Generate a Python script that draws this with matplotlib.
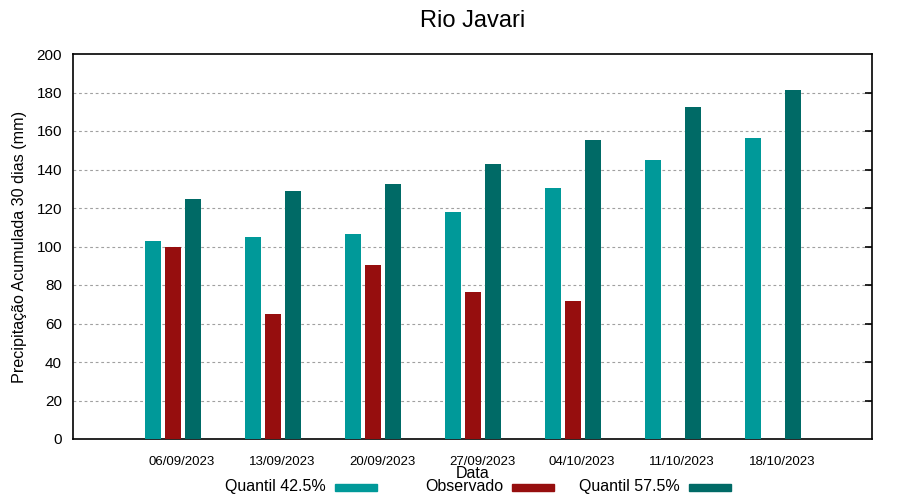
import numpy as np
import matplotlib
matplotlib.use("Agg")
import matplotlib.pyplot as plt
from matplotlib.patches import Rectangle

plt.rcParams['font.family'] = ['Liberation Sans', 'DejaVu Sans']

dates = ['06/09/2023', '13/09/2023', '20/09/2023', '27/09/2023',
         '04/10/2023', '11/10/2023', '18/10/2023']
q425 = [102.6, 104.7, 106.3, 117.7, 130.2, 144.8, 156.3]
observado = [99.5, 65.1, 90.6, 76.6, 71.9, np.nan, np.nan]
q575 = [124.5, 128.6, 132.3, 142.7, 155.2, 172.4, 181.3]
series_names = ['Quantil 42.5%', 'Observado', 'Quantil 57.5%']

c_q425 = '#009999'
c_obs = '#960e0e'
c_q575 = '#006a66'
colors = [c_q425, c_obs, c_q575]

fig = plt.figure(figsize=(9, 5), dpi=100)
ax = fig.add_axes([73/900, 1-439/500, 799/900, 385/500])

x = np.arange(len(dates))
w = 0.16
ax.bar(x - 0.2, q425, w, color=c_q425, zorder=3)
ax.bar(x, observado, w, color=c_obs, zorder=3)
ax.bar(x + 0.2, q575, w, color=c_q575, zorder=3)

ax.set_xlim(-1.0, 6.99)
ax.set_ylim(0, 200)
ax.set_yticks(np.arange(0, 201, 20))
ax.set_xticks(x + 0.09)
ax.set_xticklabels(dates, fontsize=9.5)
ax.tick_params(axis='x', length=0, pad=12)
ax.tick_params(axis='y', labelsize=11, length=0, pad=8)

for yv in range(20, 200, 20):
    ax.axhline(yv, color='#a0a0a0', lw=0.8, ls=(0, (2.5, 2.5)), zorder=1)
    ax.plot([1.0], [yv], marker=0, transform=ax.get_yaxis_transform(),
            markersize=5, color='black', mew=1.2, clip_on=False, zorder=4)

for s in ax.spines.values():
    s.set_linewidth(1.2)

fig.text(473/900, 1-27/500, 'Rio Javari', fontsize=17, ha='center', va='baseline')
ax.set_ylabel('Precipitação Acumulada 30 dias (mm)', fontsize=11.6)
ax.yaxis.label.set_va('center')
ax.yaxis.set_label_coords((20-73)/799, 0.5)
ax.set_xlabel('Data', fontsize=11.5)
ax.xaxis.label.set_va('center')
ax.xaxis.set_label_coords(0.5, (439-474)/385)

# gnuplot-style legend: text right-aligned, sample after it
for i, (name, col) in enumerate(zip(series_names, colors)):
    xe = 326 + 177 * i
    fig.text(xe/900, 1-491/500, name, ha='right', va='baseline', fontsize=11.5)
    fig.patches.append(Rectangle(((xe+9)/900, 1-491/500), 42/900, 7/500,
                                 transform=fig.transFigure, color=col,
                                 figure=fig))

fig.savefig('out.png', dpi=100)
